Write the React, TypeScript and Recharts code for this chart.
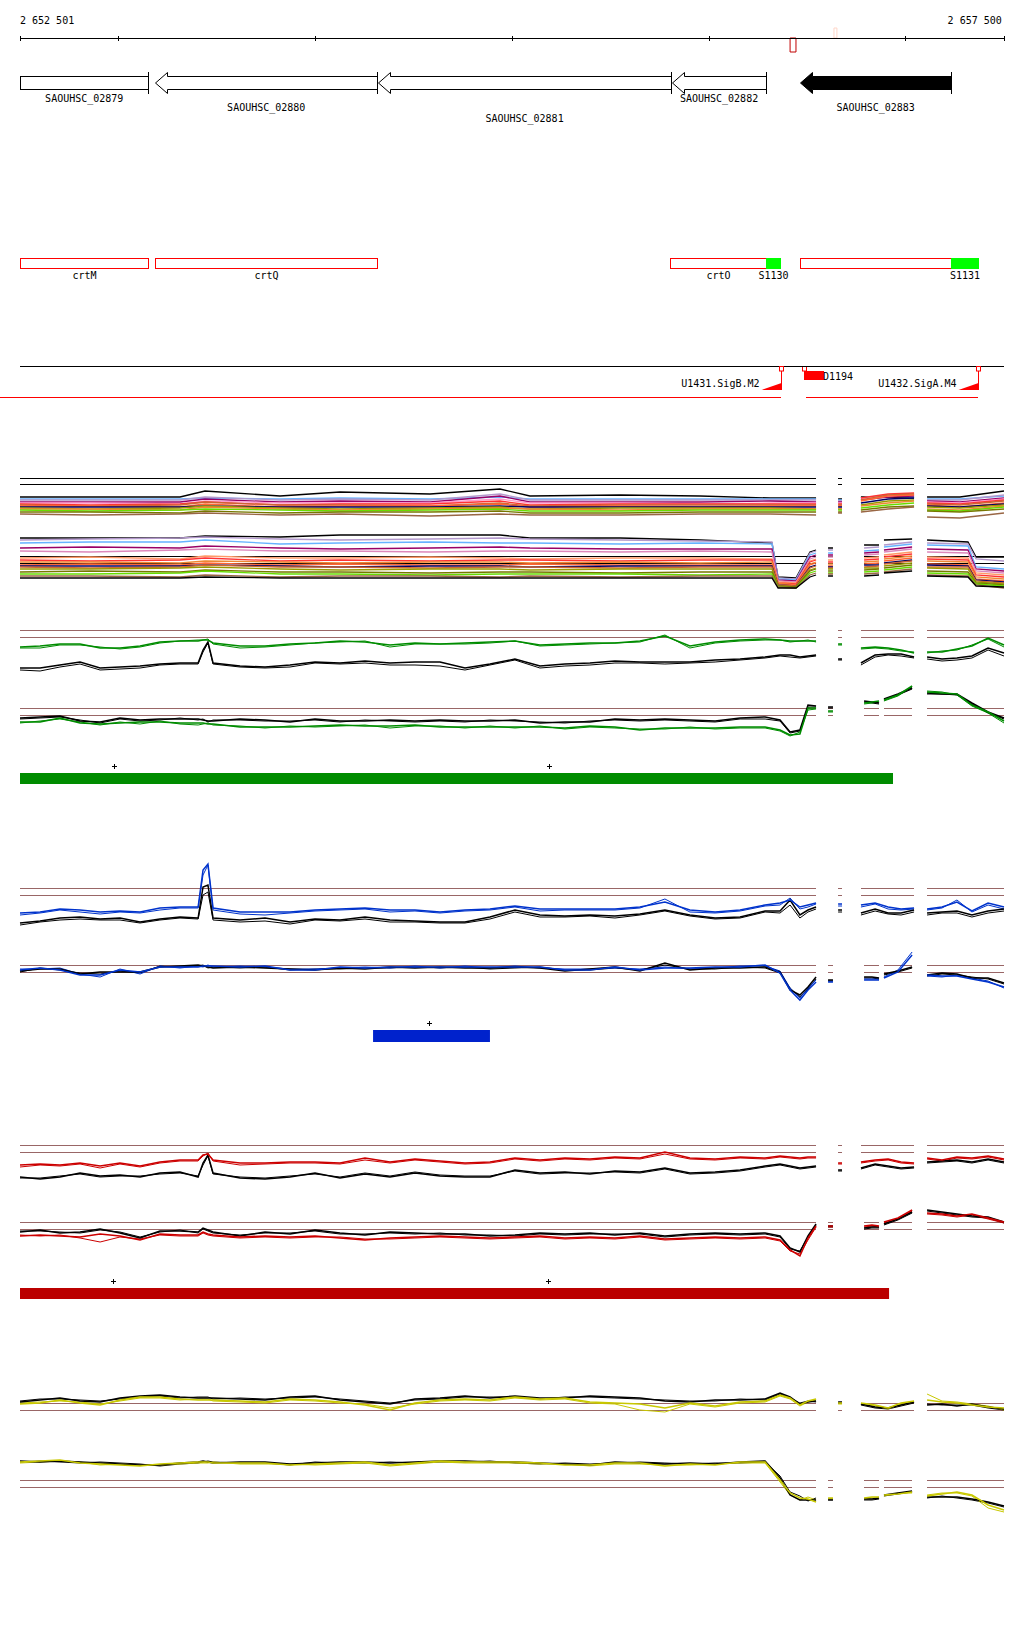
import React from "react";
import { LineChart, Line, XAxis, YAxis, ReferenceLine, ReferenceArea, ReferenceDot } from "recharts";

// genome window (bp)
const VIEW_START = 2652501;
const VIEW_END = 2657501;
const VIEW_LABELS = [2652501, 2657500];
const RULER_TICKS = [2652501, 2653000, 2654000, 2655000, 2656000, 2657000, 2657500];

const GENES = [
  { name: "SAOUHSC_02879", start: 2651900, end: 2653151 },
  { name: "SAOUHSC_02880", start: 2653187, end: 2654315 },
  { name: "SAOUHSC_02881", start: 2654318, end: 2655809 },
  { name: "SAOUHSC_02882", start: 2655812, end: 2656292 },
  { name: "SAOUHSC_02883", start: 2656464, end: 2657232 },
];
const SELECTED_GENE = "SAOUHSC_02883";

const FEATURES = [
  { name: "crtM", start: 2652380, end: 2653151, kind: "cds" },
  { name: "crtQ", start: 2653187, end: 2654315, kind: "cds" },
  { name: "crtO", start: 2655804, end: 2656292, kind: "cds" },
  { name: "S1130", start: 2656292, end: 2656363, kind: "srna" },
  { name: "", start: 2656464, end: 2657232, kind: "cds" },
  { name: "S1131", start: 2657232, end: 2657369, kind: "srna" },
];

const PROBE_MARKS = [
  { start: 2656414, end: 2656444, strand: "-" },
  { start: 2656637, end: 2656652, strand: "+" },
];

const PROMOTERS = [
  { name: "U1431.SigB.M2", pos: 2656369 },
  { name: "U1432.SigA.M4", pos: 2657371 },
];
const SHIFTS = [{ name: "D1194", start: 2656485, end: 2656586 }];
const TRANSCRIPTS = [
  [2652399, 2656369],
  [2656495, 2657371],
];

// probe coverage, forward (upper) and reverse (lower) rows
const FWD_REGIONS = [
  [2652501, 2656546], [2656658, 2656678], [2656774, 2657044], [2657110, 2657501],
];
const REV_REGIONS = [
  [2652501, 2656546], [2656607, 2656632], [2656790, 2656866], [2656891, 2657034], [2657110, 2657501],
];

const BODY_POS = [
  2652501, 2652603, 2652704, 2652806, 2652908, 2653009, 2653111, 2653212, 2653314, 2653406,
  2653431, 2653456, 2653482, 2653619, 2653746, 2653873, 2654000, 2654127, 2654254, 2654381,
  2654508, 2654635, 2654762, 2654889, 2655016, 2655143, 2655270, 2655397, 2655524, 2655651,
  2655778, 2655905, 2656033, 2656160, 2656287, 2656363, 2656414, 2656464, 2656505, 2656546,
];
const FWD_POS = [
  ...BODY_POS, 2656602, 2656658, 2656678, 2656724, 2656774, 2656846, 2656912, 2656978, 2657044,
  2657074, 2657110, 2657186, 2657262, 2657338, 2657420, 2657501,
];
const REV_POS = [
  ...BODY_POS, 2656576, 2656607, 2656632, 2656708, 2656790, 2656830, 2656866, 2656876, 2656891,
  2656962, 2657034, 2657074, 2657110, 2657186, 2657262, 2657338, 2657420, 2657501,
];

// null between probe blocks
const gaps = (...segs: number[][]): (number | null)[] =>
  segs.flatMap((s, i) => (i ? [null, ...s] : s));

// --- green condition (replicate A / B)
const GREEN_UP = gaps(
  [93, 94, 96, 96, 92, 92, 94, 98, 99, 99, 100, 100, 97, 94, 94, 96, 97, 99, 98, 95,
   97, 96, 97, 98, 99, 95, 96, 97, 97, 99, 104, 94, 98, 100, 101, 100, 99, 99, 99, 99],
  [96, 96], [92, 93, 92, 90, 87], [88, 88, 91, 94, 102, 95]);
const GREEN_UP_B = gaps(
  [92, 92, 95, 95, 93, 91, 93, 97, 99, 100, 100, 101, 96, 92, 93, 95, 97, 98, 99, 93,
   96, 96, 96, 97, 99, 94, 95, 96, 97, 98, 105, 92, 97, 99, 100, 100, 98, 99, 100, 98],
  [95, 95], [91, 92, 91, 89, 88], [87, 89, 90, 95, 101, 93]);
const GREEN_REF_UP = gaps(
  [72, 72, 75, 78, 72, 73, 74, 76, 77, 77, 90, 98, 77, 74, 73, 75, 78, 77, 79, 77,
   78, 78, 72, 76, 81, 74, 76, 77, 79, 78, 78, 78, 80, 81, 83, 85, 85, 83, 84, 85],
  [81, 81], [77, 85, 86, 86, 83], [83, 81, 82, 84, 92, 87]);
const GREEN_REF_UP_B = gaps(
  [70, 69, 73, 76, 70, 71, 72, 75, 76, 76, 88, 97, 76, 73, 72, 73, 77, 76, 77, 75,
   75, 74, 70, 75, 80, 72, 74, 75, 77, 77, 76, 77, 78, 80, 82, 84, 83, 82, 83, 84],
  [80, 80], [75, 83, 85, 84, 82], [81, 79, 80, 82, 90, 84]);
const GREEN_DN = gaps(
  [18, 18, 22, 17, 16, 17, 18, 18, 17, 17, 17, 16, 16, 13, 13, 13, 14, 15, 14, 14,
   15, 13, 13, 13, 13, 13, 12, 14, 13, 10, 12, 12, 12, 13, 13, 10, 5, 6, 32, 32],
  [29, 29], [37, 38, 39], [40, 45, 54], [48, 47, 46, 35, 28, 19]);
const GREEN_DN_B = gaps(
  [17, 19, 21, 18, 15, 18, 16, 19, 16, 15, 16, 17, 15, 14, 12, 14, 13, 14, 15, 12,
   14, 14, 12, 14, 12, 14, 11, 13, 12, 11, 11, 13, 11, 12, 12, 9, 4, 8, 30, 31],
  [28, 28], [36, 37, 38], [39, 44, 53], [49, 48, 45, 34, 27, 17]);
const GREEN_REF_DN = gaps(
  [22, 23, 24, 19, 18, 22, 20, 21, 21, 21, 20, 19, 19, 21, 20, 18, 21, 19, 19, 20,
   19, 20, 19, 19, 20, 17, 18, 18, 21, 20, 21, 20, 19, 22, 23, 20, 8, 10, 35, 34],
  [33, 33], [39, 38, 37], [41, 46, 52], [47, 46, 46, 37, 28, 22]);
const GREEN_REF_DN_B = gaps(
  [21, 22, 23, 20, 17, 21, 19, 20, 22, 20, 21, 18, 20, 20, 19, 19, 20, 18, 20, 19,
   18, 19, 18, 20, 19, 18, 17, 19, 20, 19, 20, 19, 18, 21, 21, 19, 7, 9, 33, 33],
  [32, 32], [38, 37, 36], [40, 45, 51], [46, 46, 45, 36, 27, 21]);

// --- blue condition
const BLUE_UP = gaps(
  [97, 98, 101, 100, 98, 99, 98, 102, 103, 103, 140, 146, 102, 98, 98, 98, 100, 101, 102, 100,
   100, 98, 100, 101, 104, 101, 101, 101, 101, 103, 108, 100, 98, 100, 105, 107, 110, 103, 105, 107],
  [106, 106], [105, 107, 103, 101, 102], [101, 103, 108, 99, 107, 103]);
const BLUE_UP_B = gaps(
  [95, 97, 100, 98, 96, 98, 97, 100, 102, 102, 135, 145, 100, 96, 95, 97, 99, 100, 101, 98,
   99, 97, 99, 100, 103, 99, 100, 100, 100, 102, 111, 98, 97, 99, 104, 105, 112, 101, 103, 106],
  [104, 104], [103, 106, 101, 100, 101], [100, 102, 110, 98, 105, 101]);
const BLUE_REF_UP = gaps(
  [87, 89, 92, 93, 91, 92, 88, 91, 93, 92, 123, 125, 92, 90, 92, 88, 91, 90, 93, 90,
   89, 88, 88, 93, 100, 95, 94, 95, 94, 96, 100, 95, 92, 93, 99, 99, 110, 95, 100, 103],
  [100, 100], [97, 101, 97, 97, 100], [97, 98, 99, 95, 99, 101]);
const BLUE_REF_UP_B = gaps(
  [85, 88, 90, 91, 90, 90, 87, 90, 92, 91, 115, 118, 90, 88, 89, 86, 90, 89, 91, 88,
   88, 87, 87, 91, 98, 93, 93, 94, 92, 95, 99, 94, 91, 92, 98, 97, 105, 92, 98, 101],
  [98, 98], [95, 99, 96, 95, 98], [95, 97, 97, 93, 97, 99]);
const BLUE_DN = gaps(
  [40, 42, 40, 35, 35, 40, 38, 43, 43, 43, 44, 44, 44, 43, 44, 40, 40, 43, 42, 43,
   43, 43, 43, 43, 43, 43, 40, 40, 43, 40, 42, 42, 43, 43, 45, 37, 20, 10, 20, 28],
  [28, 28], [30, 30, 30], [32, 38, 55], [35, 34, 34, 31, 28, 23]);
const BLUE_DN_B = gaps(
  [41, 41, 42, 36, 33, 41, 36, 44, 42, 44, 43, 45, 43, 44, 43, 41, 41, 42, 43, 42,
   44, 42, 44, 42, 44, 42, 41, 41, 42, 41, 43, 41, 42, 44, 44, 39, 22, 12, 22, 30],
  [29, 29], [31, 31, 31], [33, 40, 58], [34, 33, 35, 32, 29, 22]);
const BLUE_REF_DN = gaps(
  [39, 41, 41, 36, 38, 38, 38, 43, 44, 45, 44, 43, 42, 43, 42, 41, 40, 42, 41, 43,
   42, 43, 42, 42, 43, 42, 39, 41, 43, 39, 47, 40, 42, 42, 43, 38, 20, 15, 23, 33],
  [30, 30], [33, 33, 32], [36, 39, 43], [35, 37, 36, 32, 32, 27]);
const BLUE_REF_DN_B = gaps(
  [38, 42, 40, 37, 36, 39, 37, 44, 43, 44, 45, 42, 43, 42, 43, 40, 41, 41, 42, 42,
   43, 42, 43, 41, 42, 43, 40, 40, 42, 40, 45, 41, 41, 43, 42, 37, 22, 13, 21, 31],
  [29, 29], [32, 32, 31], [35, 38, 42], [34, 36, 35, 33, 31, 26]);

// --- red condition
const RED_UP = gaps(
  [95, 96, 95, 97, 94, 97, 94, 98, 100, 100, 105, 106, 100, 97, 97, 98, 98, 97, 102, 98,
   101, 99, 97, 98, 102, 100, 102, 101, 103, 102, 108, 102, 101, 103, 102, 104, 103, 102, 103, 103],
  [97, 97], [98, 100, 101, 98, 97], [102, 100, 103, 102, 104, 101]);
const RED_UP_B = gaps(
  [93, 95, 94, 96, 92, 96, 93, 97, 99, 99, 104, 107, 99, 95, 96, 97, 97, 96, 100, 97,
   100, 98, 96, 97, 101, 99, 101, 100, 102, 101, 106, 101, 100, 102, 101, 103, 102, 101, 102, 102],
  [96, 96], [97, 99, 100, 97, 96], [101, 99, 102, 101, 103, 100]);
const RED_REF_UP = gaps(
  [83, 81, 83, 87, 84, 85, 83, 87, 88, 83, 97, 105, 87, 82, 81, 83, 87, 82, 86, 83,
   87, 84, 83, 83, 90, 87, 88, 86, 89, 88, 92, 87, 88, 90, 94, 96, 94, 92, 93, 94],
  [90, 90], [92, 96, 94, 92, 93], [98, 99, 100, 98, 101, 98]);
const RED_REF_UP_B = gaps(
  [82, 82, 84, 86, 83, 84, 84, 86, 87, 84, 95, 104, 86, 83, 82, 84, 86, 83, 87, 84,
   88, 85, 84, 84, 89, 86, 87, 87, 88, 87, 91, 86, 87, 89, 93, 95, 93, 91, 92, 93],
  [89, 89], [91, 95, 93, 91, 92], [97, 98, 99, 97, 100, 97]);
const RED_DN = gaps(
  [24, 25, 24, 23, 26, 24, 20, 26, 25, 25, 28, 26, 25, 23, 24, 23, 24, 22, 20, 22,
   23, 24, 23, 22, 23, 24, 22, 23, 22, 24, 21, 22, 23, 22, 23, 20, 10, 4, 22, 34],
  [34, 34], [34, 35, 34], [38, 42, 50], [47, 46, 44, 46, 42, 38]);
const RED_DN_B = gaps(
  [25, 24, 25, 22, 18, 23, 21, 25, 24, 24, 27, 25, 24, 22, 23, 22, 23, 23, 21, 21,
   22, 23, 22, 21, 22, 23, 21, 22, 21, 23, 20, 21, 22, 21, 22, 19, 9, 6, 20, 33],
  [33, 33], [33, 34, 33], [37, 41, 49], [46, 45, 43, 45, 41, 37]);
const RED_REF_DN = gaps(
  [28, 30, 27, 28, 31, 27, 22, 29, 29, 28, 32, 30, 28, 24, 28, 26, 30, 27, 25, 28,
   27, 26, 26, 24, 25, 27, 26, 27, 25, 27, 24, 26, 27, 26, 27, 24, 12, 8, 24, 36],
  [34, 34], [32, 33, 33], [36, 41, 48], [50, 48, 46, 44, 43, 38]);
const RED_REF_DN_B = gaps(
  [29, 29, 28, 27, 30, 28, 23, 28, 30, 27, 31, 29, 27, 25, 27, 27, 29, 26, 26, 27,
   26, 27, 25, 25, 24, 26, 25, 26, 26, 26, 23, 25, 26, 25, 26, 23, 11, 9, 23, 35],
  [33, 33], [31, 32, 32], [35, 40, 47], [49, 47, 45, 43, 42, 37]);

// --- yellow condition
const YELLOW_UP = gaps(
  [116, 117, 120, 117, 115, 120, 123, 123, 121, 120, 120, 120, 120, 119, 118, 121, 120, 118, 115, 110,
   117, 120, 121, 120, 123, 121, 122, 118, 117, 116, 112, 117, 114, 118, 119, 125, 122, 115, 119, 121],
  [117, 117], [117, 115, 112, 117, 119], [120, 118, 117, 115, 113, 112]);
const YELLOW_UP_B = gaps(
  [117, 118, 119, 118, 116, 119, 122, 122, 120, 121, 121, 121, 119, 118, 117, 120, 119, 117, 116, 112,
   116, 119, 120, 119, 122, 120, 121, 117, 116, 110, 108, 116, 113, 117, 118, 124, 121, 114, 118, 120],
  [116, 116], [116, 114, 111, 116, 118], [126, 119, 118, 116, 114, 110]);
const YELLOW_REF_UP = gaps(
  [118, 120, 122, 119, 118, 122, 124, 125, 123, 122, 122, 122, 122, 121, 120, 123, 124, 120, 118, 116,
   121, 122, 124, 122, 124, 122, 122, 124, 123, 122, 119, 118, 120, 120, 121, 127, 123, 116, 118, 119],
  [118, 118], [116, 113, 112, 115, 118], [115, 116, 114, 116, 113, 111]);
const YELLOW_REF_UP_B = gaps(
  [119, 121, 121, 120, 119, 121, 123, 124, 122, 123, 123, 123, 121, 122, 121, 122, 123, 121, 119, 117,
   120, 121, 123, 123, 123, 121, 123, 123, 122, 121, 120, 119, 119, 121, 120, 126, 122, 117, 119, 118],
  [117, 117], [115, 112, 111, 114, 117], [116, 115, 115, 115, 112, 110]);
const YELLOW_DN = gaps(
  [58, 59, 60, 57, 56, 55, 54, 56, 57, 58, 58, 58, 57, 57, 57, 55, 56, 57, 58, 55,
   57, 59, 58, 58, 58, 57, 55, 55, 57, 57, 54, 56, 55, 58, 58, 40, 27, 22, 21, 18],
  [22, 22], [22, 23, 23], [25, 26, 28], [24, 26, 28, 25, 15, 10]);
const YELLOW_DN_B = gaps(
  [57, 58, 59, 58, 55, 56, 55, 55, 56, 57, 57, 57, 58, 56, 56, 56, 55, 56, 57, 54,
   56, 58, 57, 57, 57, 56, 56, 54, 56, 56, 55, 55, 56, 57, 57, 38, 25, 20, 23, 20],
  [21, 21], [21, 22, 22], [24, 27, 27], [25, 27, 27, 24, 12, 8]);
const YELLOW_REF_DN = gaps(
  [59, 58, 59, 58, 57, 56, 55, 55, 57, 58, 59, 58, 57, 58, 58, 56, 57, 58, 58, 57,
   58, 59, 59, 58, 58, 57, 56, 55, 58, 57, 56, 57, 56, 58, 59, 42, 25, 20, 20, 20],
  [20, 20], [21, 21, 22], [25, 27, 29], [23, 23, 23, 21, 18, 14]);
const YELLOW_REF_DN_B = gaps(
  [58, 59, 58, 57, 58, 57, 56, 54, 56, 57, 58, 59, 58, 57, 57, 55, 58, 57, 57, 58,
   57, 58, 58, 59, 57, 56, 57, 56, 57, 58, 57, 56, 57, 57, 58, 44, 28, 24, 19, 22],
  [21, 21], [20, 20, 21], [24, 26, 28], [22, 24, 22, 20, 17, 13]);

const GREEN_LEVELS = { up: [110, 103], dn: [32, 25] };
const BLUE_LEVELS = { up: [122, 115], dn: [45, 38] };
const RED_LEVELS = { up: [115, 108], dn: [38, 31] };
const YELLOW_LEVELS = { up: [117, 110], dn: [40, 33] };
const ALL_LEVELS = { up: [117, 111], dn: [39, 32] };

// --- all-conditions overview
const MULTI_UP_POS = [
  2652501, 2652857, 2653314, 2653441, 2653822, 2654127, 2654584, 2654940, 2655092, 2655550,
  2655956, 2656312, 2656546, 2656602, 2656658, 2656678, 2656724, 2656774, 2656912, 2657044,
  2657074, 2657110, 2657277, 2657501,
];
const MULTI_UP = [
  gaps([98, 98, 98, 104, 99, 103, 101, 106, 99, 100, 99, 97, 97], [96, 96], [98, 98, 97], [98, 98, 104]),
  gaps([96, 96, 96, 97, 96, 97, 96, 98, 96, 96, 96, 96, 96], [95, 95], [97, 99, 98], [96, 96, 99]),
  gaps([95, 95, 95, 98, 95, 96, 95, 101, 95, 95, 95, 95, 95], [94, 94], [97, 100, 100], [95, 95, 100]),
  gaps([93, 93, 93, 96, 93, 94, 93, 99, 93, 93, 93, 94, 93], [93, 93], [95, 98, 99], [94, 93, 97]),
  gaps([92, 92, 91, 94, 92, 92, 92, 96, 92, 92, 91, 92, 92], [92, 92], [96, 99, 101], [93, 92, 96]),
  gaps([91, 90, 91, 93, 90, 91, 91, 94, 90, 91, 91, 91, 91], [91, 91], [97, 101, 102], [92, 91, 95]),
  gaps([90, 89, 90, 93, 90, 90, 89, 92, 89, 90, 90, 90, 90], [90, 90], [95, 100, 101], [91, 90, 94]),
  gaps([89, 89, 88, 91, 88, 89, 89, 91, 88, 89, 88, 89, 89], [89, 89], [94, 99, 100], [90, 88, 92]),
  gaps([88, 88, 88, 89, 88, 88, 88, 89, 88, 88, 88, 88, 88], [88, 88], [92, 96, 97], [89, 88, 91]),
  gaps([87, 86, 87, 89, 87, 86, 87, 88, 86, 87, 87, 87, 86], [86, 86], [90, 94, 95], [88, 87, 90]),
  gaps([86, 86, 85, 88, 86, 85, 86, 87, 86, 85, 86, 86, 86], [86, 86], [89, 92, 94], [86, 85, 89]),
  gaps([85, 84, 85, 86, 85, 84, 85, 86, 84, 84, 85, 85, 85], [85, 85], [87, 90, 92], [85, 84, 88]),
  gaps([83, 83, 82, 84, 82, 83, 83, 84, 82, 82, 83, 83, 83], [83, 83], [85, 88, 89], [84, 83, 86]),
  gaps([81, 80, 81, 82, 80, 81, 79, 81, 80, 80, 81, 81, 80], [82, 82], [83, 86, 88], [78, 77, 82]),
];
const MULTI_UP_COLORS = [
  "#000000", "#66b3ff", "#b399cc", "#990066", "#ff99cc", "#ff3333", "#cc6633",
  "#ff6633", "#000066", "#999900", "#ee8833", "#66dd00", "#777700", "#996644",
];

const MULTI_DN_POS = [
  2652501, 2652857, 2653314, 2653441, 2653822, 2654127, 2654584, 2654940, 2655092, 2655550,
  2655956, 2656322, 2656353, 2656444, 2656515, 2656546, 2656576, 2656607, 2656632, 2656708,
  2656790, 2656866, 2656876, 2656891, 2657034, 2657074, 2657110, 2657318, 2657359, 2657501,
];
const MULTI_DN = [
  gaps([57, 57, 57, 59, 58, 60, 60, 60, 57, 57, 55, 52, 18, 17, 43, 45], [47, 47], [50, 50], [55, 56], [55, 53, 38, 38]),
  gaps([55, 56, 57, 58, 56, 55, 56, 57, 56, 55, 54, 53, 17, 16, 42, 44], [45, 45], [47, 48], [50, 53], [52, 51, 36, 34]),
  gaps([52, 53, 53, 55, 51, 52, 53, 52, 52, 51, 52, 51, 16, 15, 40, 42], [42, 42], [44, 45], [48, 51], [50, 49, 28, 26]),
  gaps([47, 48, 47, 49, 47, 46, 47, 48, 47, 46, 46, 46, 15, 14, 38, 40], [40, 40], [42, 43], [45, 48], [46, 45, 26, 24]),
  gaps([44, 43, 45, 46, 44, 44, 43, 44, 44, 43, 44, 43, 14, 13, 36, 38], [38, 38], [40, 41], [43, 46], [43, 42, 24, 22]),
  gaps([37, 38, 36, 39, 37, 37, 38, 37, 36, 37, 37, 36, 13, 12, 34, 36], [35, 35], [37, 38], [40, 43], [38, 37, 22, 20]),
  gaps([35, 34, 35, 37, 34, 35, 34, 35, 35, 34, 35, 35, 12, 11, 33, 35], [33, 33], [35, 36], [38, 41], [36, 35, 20, 18]),
  gaps([33, 33, 32, 34, 33, 32, 33, 33, 32, 33, 32, 33, 12, 10, 31, 33], [31, 31], [33, 34], [36, 39], [34, 33, 18, 16]),
  gaps([30, 31, 30, 32, 30, 31, 30, 30, 31, 30, 30, 30, 11, 10, 30, 32], [29, 29], [31, 32], [34, 37], [31, 30, 16, 14]),
  gaps([29, 29, 29, 30, 29, 28, 29, 29, 28, 29, 29, 29, 10, 9, 28, 30], [28, 28], [30, 30], [32, 35], [30, 29, 15, 13]),
  gaps([28, 27, 28, 30, 28, 28, 27, 28, 28, 27, 28, 28, 10, 9, 27, 29], [27, 27], [28, 29], [31, 34], [28, 28, 14, 12]),
  gaps([26, 26, 27, 28, 26, 25, 26, 26, 25, 26, 26, 26, 9, 8, 25, 27], [26, 26], [27, 27], [29, 32], [27, 26, 13, 11]),
  gaps([23, 24, 23, 25, 23, 23, 22, 23, 23, 22, 23, 23, 9, 8, 24, 26], [24, 24], [25, 26], [27, 30], [24, 23, 12, 10]),
  gaps([21, 21, 22, 24, 21, 21, 20, 21, 21, 21, 20, 21, 8, 7, 22, 24], [22, 22], [23, 24], [25, 28], [22, 21, 11, 9]),
  gaps([19, 19, 18, 20, 18, 19, 19, 18, 19, 18, 19, 19, 8, 7, 20, 22], [21, 21], [21, 22], [23, 26], [20, 19, 10, 7]),
  gaps([17, 17, 17, 18, 17, 17, 17, 17, 17, 17, 17, 17, 7, 7, 18, 20], [19, 19], [19, 20], [22, 24], [19, 18, 9, 8]),
];
const MULTI_DN_COLORS = [
  "#000000", "#b399cc", "#66b3ff", "#990066", "#dd88bb", "#ff9966", "#ff3333", "#ee8833",
  "#ff6633", "#000066", "#cc6633", "#999900", "#777700", "#66dd00", "#996644", "#000000",
];

// expressed segments and strand marks
const GREEN_SEGMENTS = [[2652501, 2656937]];
const GREEN_MARKS = [2652979, 2655189];
const BLUE_SEGMENTS = [[2654295, 2654889]];
const BLUE_MARKS = [2654579];
const RED_SEGMENTS = [[2652501, 2656917]];
const RED_MARKS = [2652974, 2655184];

// ---------------------------------------------------------------
const DOMAIN: [number, number] = [VIEW_START, VIEW_END];
const UNIT: [number, number] = [0, 1];
const MARGIN = { top: 0, right: 20, bottom: 0, left: 20 };
const PLOT_LEFT = 20;
const FONT = '"DejaVu Sans Mono", "Liberation Mono", monospace';
const REF_BROWN = "#996666";
const LABEL_ROWS = [29.5, 38.5, 49.5];

const fmt = (v: number) => String(v).replace(/\B(?=(\d{3})+(?!\d))/g, " ");
const px = (v: number) => Math.round(v) + 0.5;

const EndLabel = (p: any) => {
  const first = p.payload.value === VIEW_START;
  return (
    <text x={p.x + (first ? 0 : -2)} y={p.y} textAnchor={first ? "start" : "end"} fontFamily={FONT} fontSize={10} fill="#000">
      {fmt(p.payload.value)}
    </text>
  );
};

const RulerTick = (p: any) => (
  <line x1={px(p.x)} x2={px(p.x)} y1={p.y - 2} y2={p.y + 3} stroke="#000" />
);

function GeneGlyph(p: any) {
  const { x, y, width, gene, row } = p;
  const right = px(x + width);
  const left = Math.max(x, PLOT_LEFT);
  const fill = gene.name === SELECTED_GENE ? "#000" : "#fff";
  const top = y + 0.5;
  const bot = y + 21.5;
  const bTop = y + 4.5;
  const bBot = y + 17.5;
  const mid = y + 11;
  let body;
  if (x >= PLOT_LEFT) {
    const tip = px(x);
    const hx = tip + 12;
    body = (
      <polygon
        points={`${tip},${mid} ${hx},${top} ${hx},${bTop} ${right},${bTop} ${right},${bBot} ${hx},${bBot} ${hx},${bot}`}
        fill={fill}
        stroke="#000"
      />
    );
  } else {
    body = <rect x={px(left)} y={bTop} width={right - px(left)} height={13} fill={fill} stroke="#000" />;
  }
  return (
    <g>
      {body}
      <line x1={right} x2={right} y1={y} y2={y + 22} stroke="#000" />
      <text x={(left + right) / 2} y={y + LABEL_ROWS[row]} textAnchor="middle" fontFamily={FONT} fontSize={10} fill="#000">
        {gene.name}
      </text>
    </g>
  );
}

function FeatureGlyph(p: any) {
  const { x, y, width, feature } = p;
  const left = px(Math.max(x, PLOT_LEFT));
  const right = px(x + width);
  const srna = feature.kind === "srna";
  return (
    <g>
      <rect x={left} y={y + 0.5} width={right - left} height={10} fill={srna ? "#00ff00" : "#fff"} stroke={srna ? "#00ff00" : "#ff0000"} />
      {feature.name ? (
        <text x={(left + right) / 2} y={y + 21} textAnchor="middle" fontFamily={FONT} fontSize={10} fill="#000">
          {feature.name}
        </text>
      ) : null}
    </g>
  );
}

function PromoterGlyph({ cx, cy, name }: any) {
  const x = px(cx);
  return (
    <g>
      <rect x={x - 2} y={cy + 0.5} width={4} height={4.5} fill="#fff" stroke="#ff0000" />
      <line x1={x} x2={x} y1={cy + 5} y2={cy + 24} stroke="#ff0000" />
      <polygon points={`${x - 20},${cy + 24} ${x},${cy + 17} ${x},${cy + 24}`} fill="#ff0000" />
      <text x={x - 22} y={cy + 21} textAnchor="end" fontFamily={FONT} fontSize={10} fill="#000">
        {name}
      </text>
    </g>
  );
}

function ShiftGlyph({ x, y, width, name }: any) {
  return (
    <g>
      <rect x={px(x) - 2} y={y + 0.5} width={4} height={4.5} fill="#fff" stroke="#ff0000" />
      <rect x={Math.round(x)} y={y + 5} width={Math.round(width)} height={9} fill="#ff0000" />
      <text x={x + width - 1} y={y + 14} textAnchor="start" fontFamily={FONT} fontSize={10} fill="#000">
        {name}
      </text>
    </g>
  );
}

function PlusGlyph({ cx, cy }: any) {
  const x = px(cx);
  return (
    <g stroke="#000">
      <line x1={x - 2.5} x2={x + 2.5} y1={cy - 6.5} y2={cy - 6.5} />
      <line x1={x} x2={x} y1={cy - 9} y2={cy - 4} />
    </g>
  );
}

const Place = ({ top, children }: { top: number; children: React.ReactNode }) => (
  <div style={{ position: "absolute", left: 0, top }}>{children}</div>
);

function RulerTrack() {
  return (
    <Place top={0}>
      <LineChart width={1024} height={60} data={RULER_TICKS.map((pos) => ({ pos, lane: 0 }))} margin={{ top: 8, right: 20, bottom: 12, left: 20 }}>
        <XAxis xAxisId="labels" orientation="top" type="number" dataKey="pos" domain={DOMAIN} allowDataOverflow ticks={VIEW_LABELS} interval={0}
          height={20} axisLine={false} tickLine={false} tickSize={0} tickMargin={4} tick={EndLabel} />
        <XAxis xAxisId="ruler" orientation="bottom" type="number" dataKey="pos" domain={DOMAIN} allowDataOverflow ticks={RULER_TICKS} interval={0}
          height={10} axisLine={{ stroke: "#000", shapeRendering: "crispEdges" }} tickLine={false} tickSize={0} tickMargin={0} tick={RulerTick} />
        <YAxis type="number" dataKey="lane" domain={UNIT} allowDataOverflow hide />
        {PROBE_MARKS.map((m, i) => (
          <ReferenceArea key={i} xAxisId="ruler" x1={m.start} x2={m.end}
            y1={m.strand === "-" ? -1.4 : 0} y2={m.strand === "-" ? 0 : 1} ifOverflow="visible"
            fill="#fff" fillOpacity={0} stroke={m.strand === "-" ? "#c00000" : "#ffd6c8"} strokeWidth={1} />
        ))}
      </LineChart>
    </Place>
  );
}

function GeneTrack() {
  return (
    <Place top={72}>
      <LineChart width={1024} height={60} data={GENES.map((g) => ({ pos: g.end, lane: 0 }))} margin={{ ...MARGIN, bottom: 38 }}>
        <XAxis type="number" dataKey="pos" domain={DOMAIN} allowDataOverflow hide />
        <YAxis type="number" dataKey="lane" domain={UNIT} allowDataOverflow hide />
        {GENES.map((g, i) => (
          <ReferenceArea key={g.name} x1={g.start} x2={g.end} y1={0} y2={1} ifOverflow="visible"
            shape={(p: any) => <GeneGlyph {...p} gene={g} row={i % 3} />} />
        ))}
      </LineChart>
    </Place>
  );
}

function FeatureTrack() {
  return (
    <Place top={258}>
      <LineChart width={1024} height={30} data={FEATURES.map((f) => ({ pos: f.end, lane: 0 }))} margin={{ ...MARGIN, bottom: 19 }}>
        <XAxis type="number" dataKey="pos" domain={DOMAIN} allowDataOverflow hide />
        <YAxis type="number" dataKey="lane" domain={UNIT} allowDataOverflow hide />
        {FEATURES.map((f, i) => (
          <ReferenceArea key={i} x1={f.start} x2={f.end} y1={0} y2={1} ifOverflow="visible"
            shape={(p: any) => <FeatureGlyph {...p} feature={f} />} />
        ))}
      </LineChart>
    </Place>
  );
}

function TranscriptTrack() {
  return (
    <Place top={360}>
      <LineChart width={1024} height={45} data={PROMOTERS.map((p) => ({ pos: p.pos, lane: 1 }))} margin={{ ...MARGIN, top: 6, bottom: 8 }}>
        <XAxis type="number" dataKey="pos" domain={DOMAIN} allowDataOverflow hide />
        <YAxis type="number" dataKey="lane" domain={UNIT} allowDataOverflow hide />
        <ReferenceLine y={1} stroke="#000" shapeRendering="crispEdges" />
        {TRANSCRIPTS.map(([a, b], i) => (
          <ReferenceLine key={i} segment={[{ x: a, y: 0 }, { x: b, y: 0 }]} ifOverflow="visible" stroke="#ff0000" shapeRendering="crispEdges" />
        ))}
        {SHIFTS.map((s) => (
          <ReferenceArea key={s.name} x1={s.start} x2={s.end} y1={0} y2={1} ifOverflow="visible"
            shape={(p: any) => <ShiftGlyph {...p} name={s.name} />} />
        ))}
        {PROMOTERS.map((p) => (
          <ReferenceDot key={p.name} x={p.pos} y={1} ifOverflow="visible"
            shape={(d: any) => <PromoterGlyph cx={d.cx} cy={d.cy} name={p.name} />} />
        ))}
      </LineChart>
    </Place>
  );
}

type Series = { values: (number | null)[]; color: string; width?: number };

function SignalTrack({ top, height, yDomain, pos, series, levels, regions, refColor }: {
  top: number; height: number; yDomain: [number, number]; pos: number[]; series: Series[];
  levels: number[]; regions: number[][]; refColor: string;
}) {
  const rows = pos.map((p, i) => {
    const row: Record<string, number | null> = { pos: p };
    series.forEach((s, k) => {
      row["s" + k] = s.values[i];
    });
    return row;
  });
  return (
    <Place top={top}>
      <LineChart width={1024} height={height} data={rows} margin={MARGIN}>
        <XAxis type="number" dataKey="pos" domain={DOMAIN} hide />
        <YAxis type="number" domain={yDomain} hide />
        {levels.flatMap((level, r) =>
          regions.map(([a, b], j) => (
            <ReferenceLine key={`ref${r}-${j}`} segment={[{ x: a, y: level }, { x: b, y: level }]}
              stroke={refColor} strokeWidth={1} shapeRendering="crispEdges" />
          ))
        )}
        {series.map((s, k) => (
          <Line key={k} type="linear" dataKey={"s" + k} stroke={s.color} strokeWidth={s.width ?? 1.4}
            dot={false} activeDot={false} connectNulls={false} isAnimationActive={false} />
        ))}
      </LineChart>
    </Place>
  );
}

function SegmentTrack({ top, height, segments, marks, color }: {
  top: number; height: number; segments: number[][]; marks: number[]; color: string;
}) {
  return (
    <Place top={top}>
      <LineChart width={1024} height={height} data={marks.map((pos) => ({ pos, lane: 1 }))} margin={{ ...MARGIN, top: 13 }}>
        <XAxis type="number" dataKey="pos" domain={DOMAIN} allowDataOverflow hide />
        <YAxis type="number" dataKey="lane" domain={UNIT} allowDataOverflow hide />
        {segments.map(([a, b], i) => (
          <ReferenceArea key={i} x1={a} x2={b} y1={0} y2={1} ifOverflow="visible" fill={color} fillOpacity={1} stroke="none" />
        ))}
        {marks.map((m, i) => (
          <ReferenceDot key={i} x={m} y={1} ifOverflow="visible" shape={(d: any) => <PlusGlyph cx={d.cx} cy={d.cy} />} />
        ))}
      </LineChart>
    </Place>
  );
}

type Vals = (number | null)[];

function Condition({ top, split, bottom, color, up, upB, upRef, upRefB, dn, dnB, dnRef, dnRefB, levels }: {
  top: number; split: number; bottom: number; color: string;
  up: Vals; upB: Vals; upRef: Vals; upRefB: Vals; dn: Vals; dnB: Vals; dnRef: Vals; dnRefB: Vals;
  levels: { up: number[]; dn: number[] };
}) {
  return (
    <>
      <SignalTrack top={top} height={split - top} yDomain={[bottom - split, bottom - top]} pos={FWD_POS}
        series={[
          { values: upRefB, color: "#000", width: 1 },
          { values: upB, color, width: 1 },
          { values: upRef, color: "#000", width: 1.5 },
          { values: up, color, width: 1.5 },
        ]}
        levels={levels.up} regions={FWD_REGIONS} refColor={REF_BROWN} />
      <SignalTrack top={split} height={bottom - split} yDomain={[0, bottom - split]} pos={REV_POS}
        series={[
          { values: dnRefB, color: "#000", width: 1 },
          { values: dnB, color, width: 1 },
          { values: dnRef, color: "#000", width: 1.5 },
          { values: dn, color, width: 1.5 },
        ]}
        levels={levels.dn} regions={REV_REGIONS} refColor={REF_BROWN} />
    </>
  );
}

export default function App() {
  return (
    <div style={{ position: "absolute", left: 0, top: 0, width: 1024, height: 1640, background: "#fff", overflow: "hidden" }}>
      <RulerTrack />
      <GeneTrack />
      <FeatureTrack />
      <TranscriptTrack />

      <SignalTrack top={465} height={60} yDomain={[70, 130]} pos={MULTI_UP_POS}
        series={MULTI_UP.map((values, i) => ({ values, color: MULTI_UP_COLORS[i], width: 1.3 }))}
        levels={ALL_LEVELS.up} regions={FWD_REGIONS} refColor="#000" />
      <SignalTrack top={525} height={70} yDomain={[0, 70]} pos={MULTI_DN_POS}
        series={MULTI_DN.map((values, i) => ({ values, color: MULTI_DN_COLORS[i], width: 1.3 }))}
        levels={ALL_LEVELS.dn} regions={REV_REGIONS} refColor="#000" />

      <Condition top={620} split={683} bottom={740} color="#008c00"
        up={GREEN_UP} upB={GREEN_UP_B} upRef={GREEN_REF_UP} upRefB={GREEN_REF_UP_B}
        dn={GREEN_DN} dnB={GREEN_DN_B} dnRef={GREEN_REF_DN} dnRefB={GREEN_REF_DN_B} levels={GREEN_LEVELS} />
      <SegmentTrack top={760} height={24} segments={GREEN_SEGMENTS} marks={GREEN_MARKS} color="#008c00" />

      <Condition top={850} split={940} bottom={1010} color="#0033cc"
        up={BLUE_UP} upB={BLUE_UP_B} upRef={BLUE_REF_UP} upRefB={BLUE_REF_UP_B}
        dn={BLUE_DN} dnB={BLUE_DN_B} dnRef={BLUE_REF_DN} dnRefB={BLUE_REF_DN_B} levels={BLUE_LEVELS} />
      <SegmentTrack top={1017} height={25} segments={BLUE_SEGMENTS} marks={BLUE_MARKS} color="#0022cc" />

      <Condition top={1130} split={1195} bottom={1260} color="#cc0000"
        up={RED_UP} upB={RED_UP_B} upRef={RED_REF_UP} upRefB={RED_REF_UP_B}
        dn={RED_DN} dnB={RED_DN_B} dnRef={RED_REF_DN} dnRefB={RED_REF_DN_B} levels={RED_LEVELS} />
      <SegmentTrack top={1275} height={24} segments={RED_SEGMENTS} marks={RED_MARKS} color="#bb0000" />

      <Condition top={1380} split={1440} bottom={1520} color="#c8c800"
        up={YELLOW_UP} upB={YELLOW_UP_B} upRef={YELLOW_REF_UP} upRefB={YELLOW_REF_UP_B}
        dn={YELLOW_DN} dnB={YELLOW_DN_B} dnRef={YELLOW_REF_DN} dnRefB={YELLOW_REF_DN_B} levels={YELLOW_LEVELS} />
    </div>
  );
}
